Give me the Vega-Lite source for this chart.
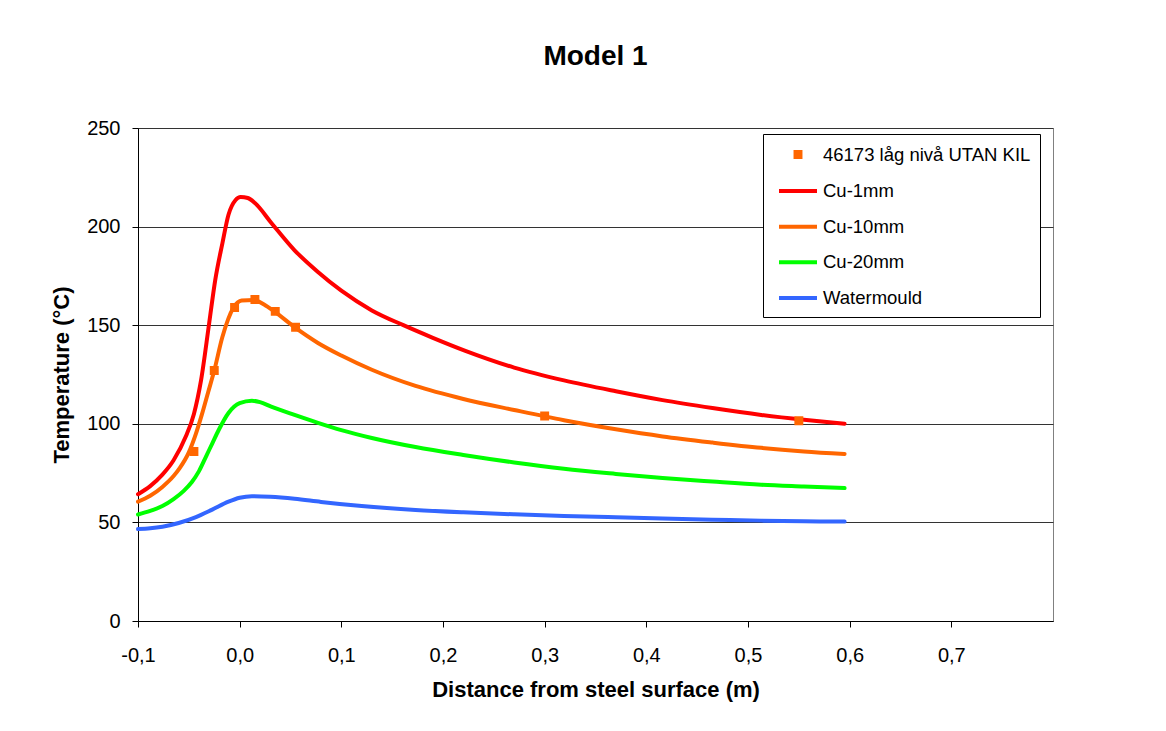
{
  "$schema": "https://vega.github.io/schema/vega-lite/v6.json",
  "width": 915,
  "height": 493,
  "autosize": {"type": "none"},
  "padding": {"left": 138, "top": 128, "right": 113, "bottom": 110},
  "background": "white",
  "title": {"text": "Model 1", "fontSize": 28, "fontWeight": "bold", "font": "Liberation Sans", "color": "black", "frame": "group", "anchor": "middle", "baseline": "alphabetic", "offset": 25},
  "datasets": {
    "curves": [
      {"series": "Cu-1mm", "x": -0.1, "t": 64.3}, {"series": "Cu-1mm", "x": -0.088, "t": 68.4}, {"series": "Cu-1mm", "x": -0.076, "t": 74.2}, {"series": "Cu-1mm", "x": -0.065, "t": 81.5}, {"series": "Cu-1mm", "x": -0.053, "t": 93.5}, {"series": "Cu-1mm", "x": -0.045, "t": 105}, {"series": "Cu-1mm", "x": -0.038, "t": 122}, {"series": "Cu-1mm", "x": -0.03, "t": 151}, {"series": "Cu-1mm", "x": -0.024, "t": 173}, {"series": "Cu-1mm", "x": -0.017, "t": 191.5}, {"series": "Cu-1mm", "x": -0.011, "t": 206}, {"series": "Cu-1mm", "x": -0.004, "t": 213.5}, {"series": "Cu-1mm", "x": 0.001, "t": 215}, {"series": "Cu-1mm", "x": 0.008, "t": 214.5}, {"series": "Cu-1mm", "x": 0.015, "t": 212}, {"series": "Cu-1mm", "x": 0.031, "t": 202}, {"series": "Cu-1mm", "x": 0.054, "t": 188}, {"series": "Cu-1mm", "x": 0.077, "t": 177}, {"series": "Cu-1mm", "x": 0.1, "t": 167.5}, {"series": "Cu-1mm", "x": 0.13, "t": 157.5}, {"series": "Cu-1mm", "x": 0.161, "t": 150}, {"series": "Cu-1mm", "x": 0.19, "t": 143.6}, {"series": "Cu-1mm", "x": 0.222, "t": 137}, {"series": "Cu-1mm", "x": 0.27, "t": 128.5}, {"series": "Cu-1mm", "x": 0.319, "t": 122}, {"series": "Cu-1mm", "x": 0.37, "t": 116.5}, {"series": "Cu-1mm", "x": 0.416, "t": 112}, {"series": "Cu-1mm", "x": 0.465, "t": 108}, {"series": "Cu-1mm", "x": 0.513, "t": 104.5}, {"series": "Cu-1mm", "x": 0.555, "t": 102}, {"series": "Cu-1mm", "x": 0.595, "t": 100},
      {"series": "Cu-10mm", "x": -0.1, "t": 60.5}, {"series": "Cu-10mm", "x": -0.088, "t": 63.5}, {"series": "Cu-10mm", "x": -0.076, "t": 68}, {"series": "Cu-10mm", "x": -0.065, "t": 73.5}, {"series": "Cu-10mm", "x": -0.059, "t": 77.5}, {"series": "Cu-10mm", "x": -0.05, "t": 85.5}, {"series": "Cu-10mm", "x": -0.043, "t": 95}, {"series": "Cu-10mm", "x": -0.037, "t": 105}, {"series": "Cu-10mm", "x": -0.031, "t": 116}, {"series": "Cu-10mm", "x": -0.025, "t": 127}, {"series": "Cu-10mm", "x": -0.017, "t": 144}, {"series": "Cu-10mm", "x": -0.006, "t": 159}, {"series": "Cu-10mm", "x": 0.002, "t": 162.5}, {"series": "Cu-10mm", "x": 0.014, "t": 162.8}, {"series": "Cu-10mm", "x": 0.024, "t": 160.5}, {"series": "Cu-10mm", "x": 0.034, "t": 157}, {"series": "Cu-10mm", "x": 0.054, "t": 149}, {"series": "Cu-10mm", "x": 0.077, "t": 141}, {"series": "Cu-10mm", "x": 0.1, "t": 134.6}, {"series": "Cu-10mm", "x": 0.13, "t": 127.4}, {"series": "Cu-10mm", "x": 0.173, "t": 119.2}, {"series": "Cu-10mm", "x": 0.22, "t": 112.6}, {"series": "Cu-10mm", "x": 0.27, "t": 107}, {"series": "Cu-10mm", "x": 0.319, "t": 101.8}, {"series": "Cu-10mm", "x": 0.37, "t": 97.2}, {"series": "Cu-10mm", "x": 0.416, "t": 93.6}, {"series": "Cu-10mm", "x": 0.465, "t": 90.5}, {"series": "Cu-10mm", "x": 0.513, "t": 87.8}, {"series": "Cu-10mm", "x": 0.555, "t": 86}, {"series": "Cu-10mm", "x": 0.595, "t": 84.7},
      {"series": "Cu-20mm", "x": -0.1, "t": 54}, {"series": "Cu-20mm", "x": -0.088, "t": 55.8}, {"series": "Cu-20mm", "x": -0.076, "t": 58.3}, {"series": "Cu-20mm", "x": -0.065, "t": 61.8}, {"series": "Cu-20mm", "x": -0.055, "t": 66}, {"series": "Cu-20mm", "x": -0.047, "t": 70.5}, {"series": "Cu-20mm", "x": -0.04, "t": 76}, {"series": "Cu-20mm", "x": -0.033, "t": 83.5}, {"series": "Cu-20mm", "x": -0.027, "t": 90}, {"series": "Cu-20mm", "x": -0.0205, "t": 97}, {"series": "Cu-20mm", "x": -0.011, "t": 105.5}, {"series": "Cu-20mm", "x": 0, "t": 110.5}, {"series": "Cu-20mm", "x": 0.012, "t": 111.7}, {"series": "Cu-20mm", "x": 0.02, "t": 111}, {"series": "Cu-20mm", "x": 0.031, "t": 108.7}, {"series": "Cu-20mm", "x": 0.054, "t": 104.5}, {"series": "Cu-20mm", "x": 0.077, "t": 100.5}, {"series": "Cu-20mm", "x": 0.1, "t": 96.8}, {"series": "Cu-20mm", "x": 0.13, "t": 92.8}, {"series": "Cu-20mm", "x": 0.173, "t": 88.2}, {"series": "Cu-20mm", "x": 0.22, "t": 84.2}, {"series": "Cu-20mm", "x": 0.27, "t": 80.4}, {"series": "Cu-20mm", "x": 0.319, "t": 77.2}, {"series": "Cu-20mm", "x": 0.37, "t": 74.6}, {"series": "Cu-20mm", "x": 0.416, "t": 72.5}, {"series": "Cu-20mm", "x": 0.465, "t": 70.7}, {"series": "Cu-20mm", "x": 0.513, "t": 69.1}, {"series": "Cu-20mm", "x": 0.555, "t": 68.2}, {"series": "Cu-20mm", "x": 0.595, "t": 67.4},
      {"series": "Watermould", "x": -0.1, "t": 46.6}, {"series": "Watermould", "x": -0.088, "t": 47}, {"series": "Watermould", "x": -0.076, "t": 47.8}, {"series": "Watermould", "x": -0.06, "t": 49.7}, {"series": "Watermould", "x": -0.043, "t": 52.7}, {"series": "Watermould", "x": -0.027, "t": 56.5}, {"series": "Watermould", "x": -0.011, "t": 60.5}, {"series": "Watermould", "x": 0, "t": 62.5}, {"series": "Watermould", "x": 0.012, "t": 63.3}, {"series": "Watermould", "x": 0.03, "t": 63}, {"series": "Watermould", "x": 0.054, "t": 62}, {"series": "Watermould", "x": 0.08, "t": 60.4}, {"series": "Watermould", "x": 0.12, "t": 58.3}, {"series": "Watermould", "x": 0.173, "t": 56.3}, {"series": "Watermould", "x": 0.22, "t": 55.1}, {"series": "Watermould", "x": 0.27, "t": 54.1}, {"series": "Watermould", "x": 0.319, "t": 53.3}, {"series": "Watermould", "x": 0.37, "t": 52.6}, {"series": "Watermould", "x": 0.416, "t": 52}, {"series": "Watermould", "x": 0.465, "t": 51.4}, {"series": "Watermould", "x": 0.513, "t": 50.9}, {"series": "Watermould", "x": 0.555, "t": 50.6}, {"series": "Watermould", "x": 0.595, "t": 50.4}
    ],
    "measured": [
      {"series": "46173 låg nivå UTAN KIL", "x": -0.045, "t": 86},
      {"series": "46173 låg nivå UTAN KIL", "x": -0.025, "t": 127},
      {"series": "46173 låg nivå UTAN KIL", "x": -0.005, "t": 159},
      {"series": "46173 låg nivå UTAN KIL", "x": 0.015, "t": 163},
      {"series": "46173 låg nivå UTAN KIL", "x": 0.035, "t": 157},
      {"series": "46173 låg nivå UTAN KIL", "x": 0.055, "t": 149},
      {"series": "46173 låg nivå UTAN KIL", "x": 0.3, "t": 104},
      {"series": "46173 låg nivå UTAN KIL", "x": 0.55, "t": 101.5}
    ]
  },
  "encoding": {
    "x": {
      "field": "x", "type": "quantitative",
      "scale": {"domain": [-0.1, 0.8], "nice": false, "zero": false},
      "axis": {
        "title": "Distance from steel surface (m)",
        "values": [-0.1, 0, 0.1, 0.2, 0.3, 0.4, 0.5, 0.6, 0.7],
        "labelExpr": "replace(replace(format(datum.value, '.1f'), '.', ','), '−', '-')",
        "grid": false, "labelPadding": 18, "titlePadding": 14, "labelFlush": false
      }
    },
    "y": {
      "field": "t", "type": "quantitative",
      "scale": {"domain": [0, 250], "nice": false},
      "axis": {
        "title": "Temperature (°C)",
        "values": [0, 50, 100, 150, 200, 250],
        "grid": true, "labelPadding": 12, "titlePadding": 13
      }
    }
  },
  "layer": [
    {
      "data": {"name": "curves"},
      "mark": {"type": "line", "interpolate": "monotone", "strokeWidth": 4, "strokeCap": "round"},
      "encoding": {
        "stroke": {
          "field": "series", "type": "nominal",
          "scale": {"domain": ["46173 låg nivå UTAN KIL", "Cu-1mm", "Cu-10mm", "Cu-20mm", "Watermould"], "range": ["#FF6600", "#FF0000", "#FF6600", "#00FF00", "#3366FF"]},
          "legend": {"title": null, "orient": "none", "legendX": 625, "legendY": 6, "strokeColor": "black", "fillColor": "white", "padding": 9, "symbolOffset": 14.5, "labelOffset": 13.5, "labelFont": "Liberation Sans", "labelFontSize": 18.5, "labelColor": "black", "labelLimit": 400, "symbolStrokeWidth": 4, "symbolSize": 361, "rowPadding": 14.6}
        }
      }
    },
    {
      "data": {"name": "measured"},
      "mark": {"type": "point", "filled": true, "opacity": 1, "size": 361, "strokeWidth": 4},
      "encoding": {
        "fill": {
          "field": "series", "type": "nominal",
          "scale": {"domain": ["46173 låg nivå UTAN KIL", "Cu-1mm", "Cu-10mm", "Cu-20mm", "Watermould"], "range": ["#FF6600", "#FF0000", "#FF6600", "#00FF00", "#3366FF"]},
          "legend": {"title": null, "orient": "none", "legendX": 625, "legendY": 6, "strokeColor": "black", "fillColor": "white", "padding": 9, "symbolOffset": 14.5, "labelOffset": 13.5, "labelFont": "Liberation Sans", "labelFontSize": 18.5, "labelColor": "black", "labelLimit": 400, "symbolStrokeWidth": 4, "symbolSize": 361, "rowPadding": 14.6}
        },
        "stroke": {"field": "series", "type": "nominal"},
        "shape": {
          "field": "series", "type": "nominal",
          "scale": {"domain": ["46173 låg nivå UTAN KIL", "Cu-1mm", "Cu-10mm", "Cu-20mm", "Watermould"], "range": ["M-0.26,-0.26H0.26V0.26H-0.26Z", "M-2,0H2", "M-2,0H2", "M-2,0H2", "M-2,0H2"]},
          "legend": {"title": null, "orient": "none", "legendX": 625, "legendY": 6, "strokeColor": "black", "fillColor": "white", "padding": 9, "symbolOffset": 14.5, "labelOffset": 13.5, "labelFont": "Liberation Sans", "labelFontSize": 18.5, "labelColor": "black", "labelLimit": 400, "symbolStrokeWidth": 4, "symbolSize": 361, "rowPadding": 14.6}
        }
      }
    }
  ],
  "config": {
    "font": "Liberation Sans",
    "view": {"stroke": "#808080", "strokeWidth": 1},
    "axis": {
      "labelFont": "Liberation Sans", "labelFontSize": 20, "labelColor": "black",
      "titleFont": "Liberation Sans", "titleFontSize": 22, "titleFontWeight": "bold", "titleColor": "black",
      "domainColor": "black", "tickColor": "black", "tickSize": 6,
      "gridColor": "#333333", "gridWidth": 1
    }
  }
}
